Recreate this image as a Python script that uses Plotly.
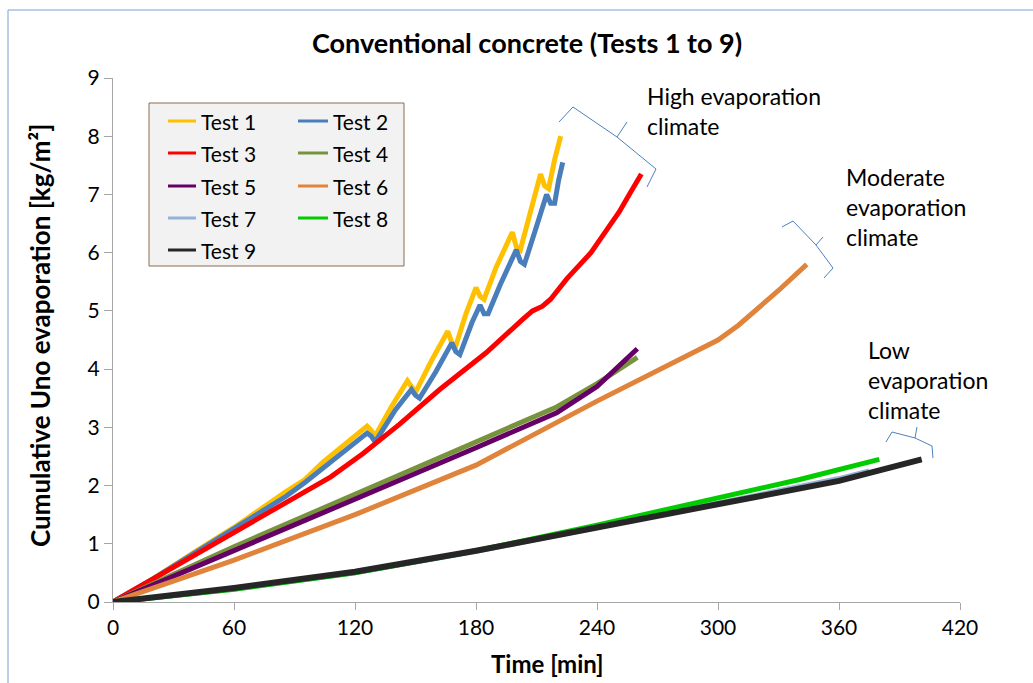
import plotly.graph_objects as go

# ---------------- data ----------------
names = ["Test 1", "Test 2", "Test 3", "Test 4", "Test 5", "Test 6", "Test 7", "Test 8", "Test 9"]
colors = ["#FFC000", "#4A7EBB", "#FF0000", "#77933C", "#660066", "#E0843C", "#95B3D7", "#00CC00", "#262626"]

t1 = [0, 20, 40, 60, 86, 95, 104, 115, 126, 128, 130, 138, 146, 148, 150, 158, 166, 168, 170, 175, 180, 182, 184, 190, 198, 200, 202, 207, 212, 214, 216, 219, 222]
v1 = [0, 0.4, 0.85, 1.28, 1.9, 2.1, 2.4, 2.7, 3.02, 2.95, 2.85, 3.35, 3.8, 3.7, 3.6, 4.15, 4.65, 4.45, 4.4, 4.95, 5.4, 5.25, 5.2, 5.75, 6.35, 6.1, 6.05, 6.7, 7.35, 7.15, 7.1, 7.6, 8.0]

t2 = [0, 20, 40, 60, 86, 95, 104, 115, 126, 128, 130, 140, 148, 150, 152, 160, 168, 170, 172, 178, 182, 184, 186, 192, 200, 202, 204, 210, 215, 217, 219, 221, 223]
v2 = [0, 0.4, 0.83, 1.25, 1.82, 2.05, 2.3, 2.6, 2.9, 2.85, 2.75, 3.3, 3.65, 3.55, 3.5, 3.95, 4.45, 4.3, 4.25, 4.8, 5.1, 4.95, 4.95, 5.45, 6.05, 5.85, 5.8, 6.45, 7.0, 6.85, 6.85, 7.25, 7.55]

t3 = [0, 30, 60, 86, 108, 124, 142, 162, 185, 203, 208, 213, 217, 225, 237, 245, 251, 256, 262]
v3 = [0, 0.6, 1.2, 1.7, 2.15, 2.55, 3.05, 3.65, 4.28, 4.85, 5.0, 5.08, 5.2, 5.55, 6.0, 6.4, 6.7, 7.0, 7.35]

t4 = [0, 60, 120, 180, 220, 240, 260]
v4 = [0, 0.95, 1.85, 2.75, 3.35, 3.75, 4.2]

t5 = [0, 60, 120, 180, 220, 240, 260]
v5 = [0, 0.88, 1.75, 2.65, 3.25, 3.7, 4.35]

t6 = [0, 60, 120, 180, 240, 280, 300, 310, 320, 330, 344]
v6 = [0, 0.72, 1.5, 2.35, 3.45, 4.15, 4.5, 4.75, 5.05, 5.35, 5.8]

t7 = [0, 60, 120, 180, 240, 300, 360, 375]
v7 = [0, 0.22, 0.5, 0.87, 1.28, 1.7, 2.12, 2.25]

t8 = [0, 60, 120, 180, 240, 300, 340, 380]
v8 = [0, 0.22, 0.5, 0.88, 1.32, 1.78, 2.1, 2.45]

t9 = [0, 60, 120, 180, 240, 300, 360, 401]
v9 = [0, 0.24, 0.52, 0.88, 1.28, 1.68, 2.08, 2.45]

times = [t1, t2, t3, t4, t5, t6, t7, t8, t9]
values = [v1, v2, v3, v4, v5, v6, v7, v8, v9]
widths = [5, 5, 5, 5, 5, 5, 5, 5, 6]

x_ticks = [0, 60, 120, 180, 240, 300, 360, 420]
y_ticks = [0, 1, 2, 3, 4, 5, 6, 7, 8, 9]

title_text = "Conventional concrete (Tests 1 to 9)"
x_title = "Time [min]"
y_title = "Cumulative Uno evaporation [kg/m²]"
climate_labels = ["High evaporation<br>climate", "Moderate<br>evaporation<br>climate", "Low<br>evaporation<br>climate"]

# ---------------- layout geometry ----------------
W, H = 1033, 683
L, R, T, B = 113, 960, 78, 602
PW, PH = R - L, B - T

def px(x):
    return (x - L) / PW

def py(y):
    return (B - y) / PH

FONT = "Lato, 'Open Sans', sans-serif"

fig = go.Figure()
for n, c, t, v, w in zip(names, colors, times, values, widths):
    fig.add_trace(go.Scatter(x=t, y=v, mode="lines", name=n,
                             line=dict(color=c, width=w), showlegend=False))

shapes = []
annotations = []

# outer frame
shapes.append(dict(type="rect", xref="paper", yref="paper",
                   x0=px(8), x1=px(1040), y0=py(10), y1=py(690),
                   line=dict(color="#7BA0CD", width=1), fillcolor="rgba(0,0,0,0)", layer="below"))

# legend box
shapes.append(dict(type="rect", xref="paper", yref="paper",
                   x0=px(149), x1=px(404), y0=py(266), y1=py(103),
                   line=dict(color="#8C6D4F", width=1), fillcolor="#F2F2F2", layer="above"))
row_y = [121, 153, 186, 218, 250]
col_x = [(168, 196, 199), (298, 328, 331)]
for i, (n, c) in enumerate(zip(names, colors)):
    r, col = divmod(i, 2)
    x0, x1, xt = col_x[col]
    y = row_y[r]
    shapes.append(dict(type="line", xref="paper", yref="paper",
                       x0=px(x0), x1=px(x1), y0=py(y), y1=py(y),
                       line=dict(color=c, width=3), layer="above"))
    annotations.append(dict(xref="paper", yref="paper", x=px(xt), y=py(y),
                            text=n, showarrow=False, xanchor="left", yanchor="middle",
                            font=dict(family=FONT, size=21, color="#000000")))

# braces
brace_paths = [
    [(559, 122), (573, 107), (617, 137), (627, 122), None, (617, 137), (656, 169), (647, 187)],
    [(782, 227), (793, 221), (816, 245), (823, 237), None, (816, 245), (833, 268), (824, 278)],
    [(886, 442), (892, 432), (915, 438), (917, 427), None, (915, 438), (932, 446), (933, 458)],
]
for pts in brace_paths:
    d = ""
    move = True
    for p in pts:
        if p is None:
            move = True
            continue
        d += ("M" if move else "L") + f"{px(p[0]):.5f},{py(p[1]):.5f} "
        move = False
    shapes.append(dict(type="path", xref="paper", yref="paper", path=d.strip(),
                       line=dict(color="#4F81BD", width=1)))

# climate labels
label_pos = [(645, 80), (844, 161), (866, 334)]
for txt, (x, y) in zip(climate_labels, label_pos):
    annotations.append(dict(xref="paper", yref="paper", x=px(x), y=py(y), text=txt,
                            showarrow=False, xanchor="left", yanchor="top", align="left",
                            font=dict(family=FONT, size=23, color="#000000")))

# title and axis titles
annotations.append(dict(xref="paper", yref="paper", x=px(527), y=py(42), text=f"<b>{title_text}</b>",
                        showarrow=False, xanchor="center", yanchor="middle",
                        font=dict(family=FONT, size=27, color="#000000")))
annotations.append(dict(xref="paper", yref="paper", x=px(547), y=py(663), text=f"<b>{x_title}</b>",
                        showarrow=False, xanchor="center", yanchor="middle",
                        font=dict(family=FONT, size=24, color="#000000")))
annotations.append(dict(xref="paper", yref="paper", x=px(40), y=py(336), text=f"<b>{y_title}</b>",
                        showarrow=False, xanchor="center", yanchor="middle", textangle=-90,
                        font=dict(family=FONT, size=26, color="#000000")))

fig.update_layout(
    width=W, height=H,
    margin=dict(l=L, r=W - R, t=T, b=H - B),
    paper_bgcolor="white", plot_bgcolor="white",
    shapes=shapes, annotations=annotations,
    showlegend=False,
)
fig.update_xaxes(range=[0, 420], tickvals=x_ticks, ticktext=[str(v) for v in x_ticks],
                 showgrid=False, zeroline=False, showline=True, linecolor="#A6A6A6", linewidth=1,
                 ticks="outside", ticklen=7, tickcolor="#A6A6A6",
                 tickfont=dict(family=FONT, size=21, color="#000000"))
fig.update_yaxes(range=[0, 9], tickvals=y_ticks, ticktext=[str(v) for v in y_ticks],
                 showgrid=False, zeroline=False, showline=True, linecolor="#A6A6A6", linewidth=1,
                 ticks="outside", ticklen=8, tickcolor="#A6A6A6",
                 tickfont=dict(family=FONT, size=21, color="#000000"))

fig.write_html("out.html")
